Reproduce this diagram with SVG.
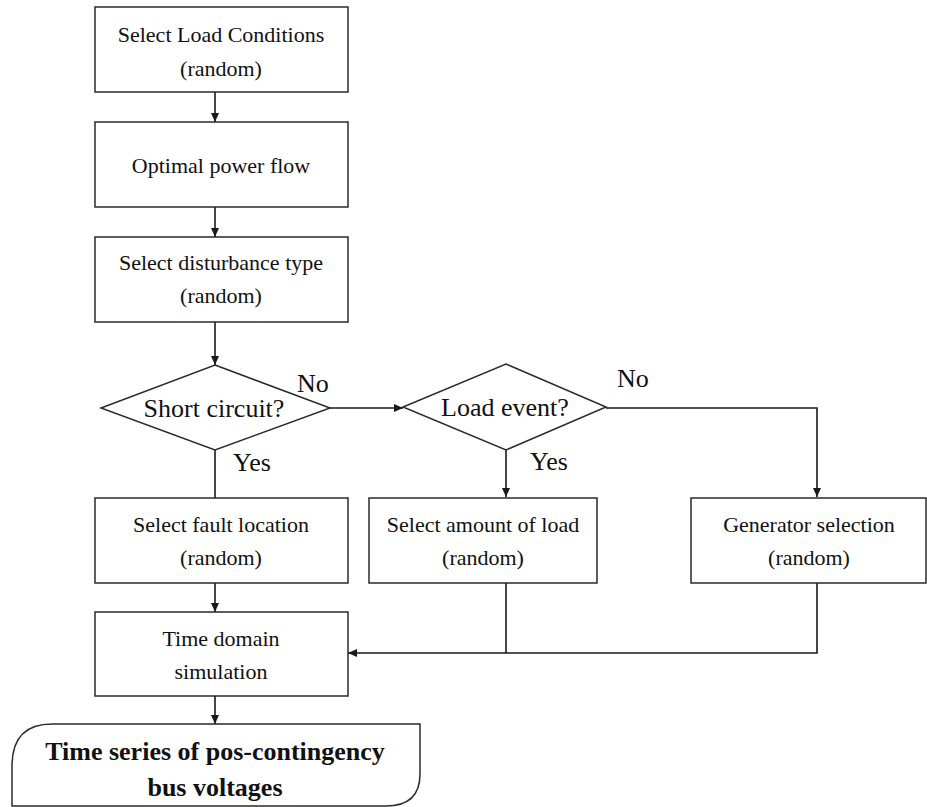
<svg xmlns="http://www.w3.org/2000/svg" width="927" height="807" viewBox="0 0 927 807">
  <defs>
    <marker id="arrow" markerWidth="10" markerHeight="10" refX="9" refY="5" orient="auto" markerUnits="userSpaceOnUse">
      <path d="M0,1 L9,5 L0,9 Z" fill="#1a1a1a"/>
    </marker>
  </defs>
  <style>
    .box { fill: #fff; stroke: #2a2a2a; stroke-width: 1.5; }
    .line { fill: none; stroke: #1a1a1a; stroke-width: 1.6; }
    .arrowed { marker-end: url(#arrow); }
    .bold { font-weight: bold; }
  </style>
  <rect width="927" height="807" fill="#fff"/>

  <g font-family="Liberation Serif" font-size="22" fill="#111" text-anchor="middle">
  <!-- connectors and branch labels -->
  <g id="connectors">
    <path class="line arrowed" d="M215,92 L215,122"/>
    <path class="line arrowed" d="M215,207 L215,237"/>
    <path class="line arrowed" d="M215,322 L215,365"/>
    <path class="line arrowed" d="M330,408 L403,408"/>
    <path class="line arrowed" d="M606,408 L817,408 L817,497"/>
    <path class="line" d="M215,450 L215,498"/>
    <path class="line arrowed" d="M506,450 L506,497"/>
    <path class="line arrowed" d="M215,583 L215,612"/>
    <path class="line" d="M506,583 L506,653"/>
    <path class="line arrowed" d="M817,583 L817,653 L348,653"/>
    <path class="line arrowed" d="M215,696 L215,724"/>
    <g font-size="26" text-anchor="start">
      <text x="297" y="392">No</text>
      <text x="617" y="387">No</text>
      <text x="233" y="471">Yes</text>
      <text x="530" y="470">Yes</text>
    </g>
  </g>

  <g id="select-load">
    <rect class="box" x="95" y="7" width="253" height="85"/>
    <text x="221" y="42">Select Load Conditions</text>
    <text x="221" y="76">(random)</text>
  </g>

  <g id="opf">
    <rect class="box" x="95" y="122" width="253" height="85"/>
    <text x="221" y="173">Optimal power flow</text>
  </g>

  <g id="disturbance">
    <rect class="box" x="95" y="237" width="253" height="85"/>
    <text x="221" y="270">Select disturbance type</text>
    <text x="221" y="303">(random)</text>
  </g>

  <g id="short-circuit">
    <polygon class="box" points="215,365 330,408 215,450 101,408"/>
    <text x="214" y="417" font-size="26">Short circuit?</text>
  </g>

  <g id="load-event">
    <polygon class="box" points="506,364 606,407 506,450 403,407"/>
    <text x="505" y="416" font-size="26">Load event?</text>
  </g>

  <g id="fault-location">
    <rect class="box" x="95" y="498" width="253" height="85"/>
    <text x="221" y="532">Select fault location</text>
    <text x="221" y="565">(random)</text>
  </g>

  <g id="load-amount">
    <rect class="box" x="369" y="498" width="228" height="85"/>
    <text x="483" y="532">Select amount of load</text>
    <text x="483" y="565">(random)</text>
  </g>

  <g id="generator">
    <rect class="box" x="691" y="498" width="235" height="85"/>
    <text x="809" y="532">Generator selection</text>
    <text x="809" y="565">(random)</text>
  </g>

  <g id="time-domain">
    <rect class="box" x="95" y="612" width="253" height="84"/>
    <text x="221" y="646">Time domain</text>
    <text x="221" y="679">simulation</text>
  </g>

  <g id="output">
    <path class="box" d="M52,724 L420,724 L420,774 Q420,806 386,806 L12,806 L12,766 Q12,724 52,724 Z"/>
    <text class="bold" x="215" y="760" font-size="26">Time series of pos-contingency</text>
    <text class="bold" x="215" y="796" font-size="26">bus voltages</text>
  </g>
  </g>
</svg>
